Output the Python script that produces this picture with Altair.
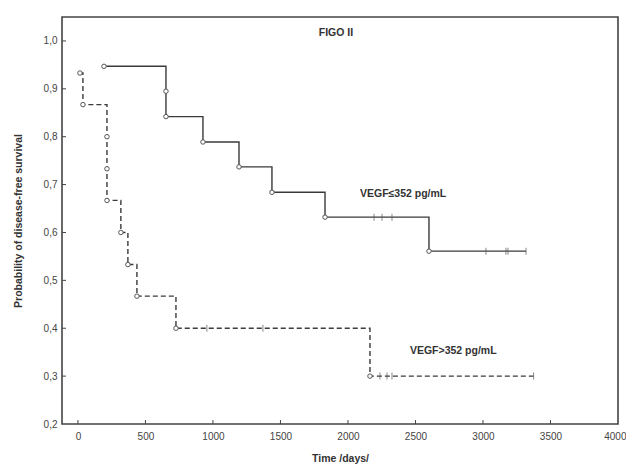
import altair as alt
import pandas as pd

# ---- data ----
# VEGF <= 352 pg/mL (solid)
low_step_t = [193, 652, 926, 1193, 1437, 1830, 2600, 3319]
low_step_s = [0.947, 0.842, 0.789, 0.737, 0.684, 0.632, 0.561, 0.561]
low_event_t = [193, 652, 652, 926, 1193, 1437, 1830, 2600]
low_event_s = [0.947, 0.895, 0.842, 0.789, 0.737, 0.684, 0.632, 0.561]
low_cens_t = [2193, 2252, 2326, 3022, 3170, 3185, 3319]
low_cens_s = [0.632, 0.632, 0.632, 0.561, 0.561, 0.561, 0.561]

# VEGF > 352 pg/mL (dashed)
high_step_t = [15, 37, 215, 318, 370, 437, 726, 2163, 3375]
high_step_s = [0.933, 0.867, 0.667, 0.600, 0.533, 0.467, 0.400, 0.300, 0.300]
high_event_t = [15, 37, 215, 215, 215, 318, 370, 437, 726, 2163]
high_event_s = [0.933, 0.867, 0.800, 0.733, 0.667, 0.600, 0.533, 0.467, 0.400, 0.300]
high_cens_t = [955, 1370, 2237, 2289, 2326, 3375]
high_cens_s = [0.400, 0.400, 0.300, 0.300, 0.300, 0.300]

x_ticks = [0, 500, 1000, 1500, 2000, 2500, 3000, 3500, 4000]
y_ticks = [0.2, 0.3, 0.4, 0.5, 0.6, 0.7, 0.8, 0.9, 1.0]

labels_text = ["FIGO II", "VEGF≤352 pg/mL", "VEGF>352 pg/mL"]
labels_x = [1911, 2089, 2459]
labels_y = [1.016, 0.680, 0.352]
labels_align = ["center", "left", "left"]

FONT = "Liberation Sans"
INK = "#3a3a3a"

xs = alt.Scale(domain=[-118, 4000], nice=False, zero=False)
ys = alt.Scale(domain=[0.2, 1.05], nice=False, zero=False)

xaxis = alt.Axis(values=x_ticks, format="d", title="Time /days/", grid=False, tickSize=0,
                 domain=False, labelPadding=7, labelFlush=True, labelFlushOffset=8,
                 labelFontSize=10, labelColor="#444", labelFont=FONT, titleFont=FONT,
                 titleFontSize=10.5, titleFontWeight="bold", titleColor="#333", titlePadding=12)
yaxis = alt.Axis(values=y_ticks, title="Probability of disease-free survival", grid=False,
                 tickSize=0, domain=False, labelPadding=5, labelFontSize=10, labelColor="#444",
                 labelFont=FONT, titleFont=FONT, titleFontSize=10.5, titleFontWeight="bold",
                 titleColor="#333", titlePadding=20,
                 labelExpr="replace(format(datum.value, '.1f'), '.', ',')")

low_line_df = pd.DataFrame({"t": low_step_t, "s": low_step_s})
high_line_df = pd.DataFrame({"t": high_step_t, "s": high_step_s})
ev_df = pd.DataFrame({"t": low_event_t + high_event_t, "s": low_event_s + high_event_s})
cens_df = pd.DataFrame({"t": low_cens_t + high_cens_t, "s": low_cens_s + high_cens_s})
lab_df = pd.DataFrame({"txt": labels_text, "x": labels_x, "y": labels_y, "al": labels_align})
xt_df = pd.DataFrame({"v": x_ticks[:-1]})
yt_df = pd.DataFrame({"v": y_ticks[1:]})

base_axes = alt.Chart(low_line_df).mark_line(
    interpolate="step-after", color=INK, strokeWidth=1.4
).encode(
    x=alt.X("t:Q", scale=xs, axis=xaxis),
    y=alt.Y("s:Q", scale=ys, axis=yaxis),
)

high_line = alt.Chart(high_line_df).mark_line(
    interpolate="step-after", color=INK, strokeWidth=1.4, strokeDash=[5, 3]
).encode(x=alt.X("t:Q", scale=xs), y=alt.Y("s:Q", scale=ys))

censors = alt.Chart(cens_df).mark_tick(
    orient="vertical", size=7, thickness=1, color="#555"
).encode(x=alt.X("t:Q", scale=xs), y=alt.Y("s:Q", scale=ys))

events = alt.Chart(ev_df).mark_point(
    shape="circle", size=20, fill="white", fillOpacity=1, stroke="#555",
    strokeWidth=1, opacity=1
).encode(x=alt.X("t:Q", scale=xs), y=alt.Y("s:Q", scale=ys))

texts = alt.layer(*[
    alt.Chart(lab_df[lab_df["al"] == a]).mark_text(
        align=a, baseline="middle", font=FONT, fontSize=10.5, fontWeight="bold", color="#333"
    ).encode(x=alt.X("x:Q", scale=xs), y=alt.Y("y:Q", scale=ys), text="txt:N")
    for a in ["center", "left"]
])

xticks = alt.Chart(xt_df).mark_rule(color="#444", strokeWidth=1).encode(
    x=alt.X("v:Q", scale=xs), y=alt.value(407), y2=alt.value(403)
)
yticks = alt.Chart(yt_df).mark_rule(color="#444", strokeWidth=1).encode(
    y=alt.Y("v:Q", scale=ys), x=alt.value(0), x2=alt.value(4)
)

chart = alt.layer(base_axes, high_line, censors, events, texts, xticks, yticks).properties(
    width=556, height=407,
    autosize=alt.AutoSizeParams(type="none"),
    padding={"left": 54, "top": 9, "right": 8, "bottom": 40},
    background="white",
).configure_view(stroke="#444", strokeWidth=1.6)

chart.save("out.html", embed_options={"renderer": "svg", "actions": False})
